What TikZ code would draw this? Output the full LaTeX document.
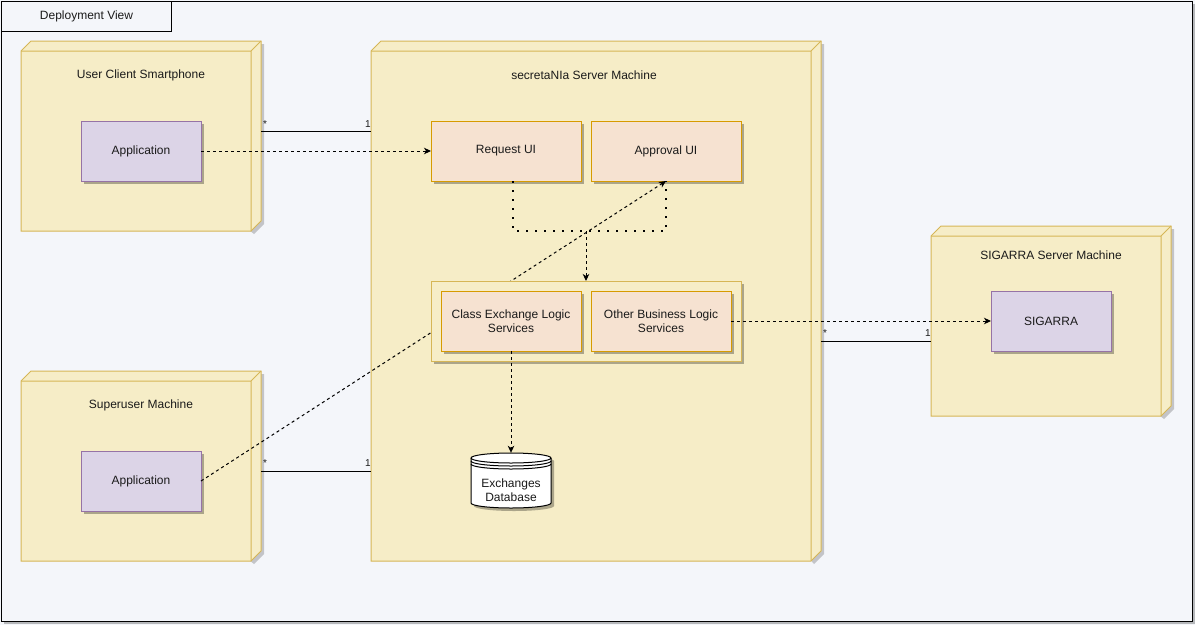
\documentclass[tikz,border=0pt]{standalone}
\usepackage{fontspec}
\setmainfont{Liberation Sans}
\usetikzlibrary{shadows,arrows.meta}
\definecolor{bgc}{HTML}{F4F6FA}
\definecolor{ndfill}{HTML}{F6EDC7}
\definecolor{ndline}{HTML}{D6B656}
\definecolor{cpfill}{HTML}{F6E2D1}
\definecolor{cpline}{HTML}{D79B00}
\definecolor{apfill}{HTML}{DCD4E7}
\definecolor{apline}{HTML}{9673A6}
\definecolor{txt}{HTML}{1A1A1A}
\tikzset{
  lbl/.style={font=\fontsize{12}{14}\selectfont, text=txt, inner sep=0pt, align=center},
  boxshadow/.style={drop shadow={shadow xshift=3pt, shadow yshift=-3pt, opacity=0.3, fill=black}},
  comp/.style={lbl, draw=cpline, fill=cpfill, line width=1pt, minimum width=150pt, minimum height=60pt, outer sep=0pt, boxshadow},
  appbox/.style={lbl, draw=apline, fill=apfill, line width=1pt, minimum width=120pt, minimum height=60pt, outer sep=0pt, boxshadow},
  contbox/.style={draw=ndline, fill=ndfill, line width=1pt, minimum width=310pt, minimum height=80pt, inner sep=0pt, outer sep=0pt, boxshadow},
  dep/.style={line width=1pt, dash pattern=on 3pt off 3pt, -{Stealth[length=7pt,width=6.5pt,inset=2pt]}},
  dotc/.style={line width=2pt, dash pattern=on 2pt off 7pt},
  assoc/.style={line width=1pt, black},
  mult/.style={font=\fontsize{10}{10}\selectfont, text=txt, inner sep=0pt, anchor=base},
}
\newcommand{\depnode}[8]{%
  \fill[black, opacity=0.2] (#2+3,#3+3) -- (#2+13,#3-7) -- (#4+13,#3-7) -- (#4+13,#5-7) -- (#4+3,#5+3) -- cycle;
  \filldraw[fill=ndfill, draw=ndline, line width=1pt] (#2,#3) -- (#2+10,#3-10) -- (#4+10,#3-10) -- (#4+10,#5-10) -- (#4,#5) -- (#2,#5) -- cycle;
  \draw[ndline, line width=1pt] (#2,#3) -- (#4,#3) -- (#4,#5) (#4,#3) -- (#4+10,#3-10);
  \coordinate (#1) at ({(#2+#4)/2},{(#3+#5)/2});
  \node[lbl] (#1-lbl) at (#6,#7) {#8};
}
\begin{document}
\begin{tikzpicture}[x=1pt,y=-1pt]
\useasboundingbox (0,0) rectangle (1195,625);
\fill[bgc] (0,0) rectangle (1195,625);
% frame
\fill[black, opacity=0.25] (4,4) rectangle (1195,624);
\filldraw[fill=bgc, draw=black, line width=1pt] (1,1) rectangle (1192,621);
\node[lbl, draw=black, line width=1pt, fill=bgc, minimum width=170pt, minimum height=30pt, anchor=north west] (tab) at (1,1) {Deployment View};

% deployment nodes
\depnode{ucs}{21}{51}{251}{231}{141}{75}{User Client Smartphone}
\depnode{srv}{371}{51}{811}{561}{584}{75}{secretaNIa Server Machine}
\depnode{sup}{21}{381}{251}{561}{141}{405}{Superuser Machine}
\depnode{sgm}{931}{236}{1161}{416}{1051}{255}{SIGARRA Server Machine}

% artifacts
\node[appbox] (app1) at (141,151) {Application};
\node[appbox] (app2) at (141,481) {Application};
\node[appbox] (sig) at (1051,321) {SIGARRA};
\node[comp] (req) at (506,151) {Request UI};
\node[comp] (appr) at (666,151) {Approval UI};

% diagonal dependency (under the container)
\draw[dep] (app2.east) -- (appr.south);

\node[contbox] (cont) at (586,321) {};
\node[comp, minimum width=140pt] (cls) at (511,321) {Class Exchange Logic\\Services};
\node[comp, minimum width=140pt] (oth) at (661,321) {Other Business Logic\\Services};

% database
\node[minimum width=80pt, minimum height=55pt, inner sep=0pt] (db) at (511,480.5) {};
\fill[black, opacity=0.3] (474,461) -- (474,506) arc[start angle=180, end angle=0, x radius=40, y radius=5] -- (554,461) arc[start angle=0, end angle=-180, x radius=40, y radius=5] -- cycle;
\filldraw[fill=white, draw=black, line width=1pt] (471,458) -- (471,503) arc[start angle=180, end angle=0, x radius=40, y radius=5] -- (551,458) arc[start angle=0, end angle=-180, x radius=40, y radius=5] -- cycle;
\draw[line width=1pt] (471,458) arc[start angle=180, end angle=0, x radius=40, y radius=5];
\draw[line width=1pt] (471,461) arc[start angle=180, end angle=0, x radius=40, y radius=5];
\draw[line width=1pt] (471,464) arc[start angle=180, end angle=0, x radius=40, y radius=5];
\node[lbl] (dbtext) at (511,490) {Exchanges\\Database};

% connectors
\coordinate (ucsR) at (261,131);
\coordinate (srvL1) at (371,131);
\draw[assoc] (ucsR) -- (srvL1);
\node[mult] (m1a) at (265,127) {*};
\node[mult] (m1b) at (368,127) {1};

\coordinate (supR) at (261,471);
\coordinate (srvL2) at (371,471);
\draw[assoc] (supR) -- (srvL2);
\node[mult] (m2a) at (265,466) {*};
\node[mult] (m2b) at (368,466) {1};

\coordinate (srvR) at (821,341);
\coordinate (sgmL) at (931,341);
\draw[assoc] (srvR) -- (sgmL);
\node[mult] (m3a) at (825,336) {*};
\node[mult] (m3b) at (928,336) {1};

\draw[dep] (app1.east) -- (req.west);
\coordinate (reqB) at (513,181);
\coordinate (joinL) at (513,231);
\coordinate (joinM) at (586,231);
\draw[dotc] (reqB) -- (joinL) -| (appr.south);
\draw[dep] (joinM) -- (cont.north);
\draw[dep] (cls.south) -- (db.north);
\draw[dep] (oth.east) -- (sig.west);
\end{tikzpicture}
\end{document}
